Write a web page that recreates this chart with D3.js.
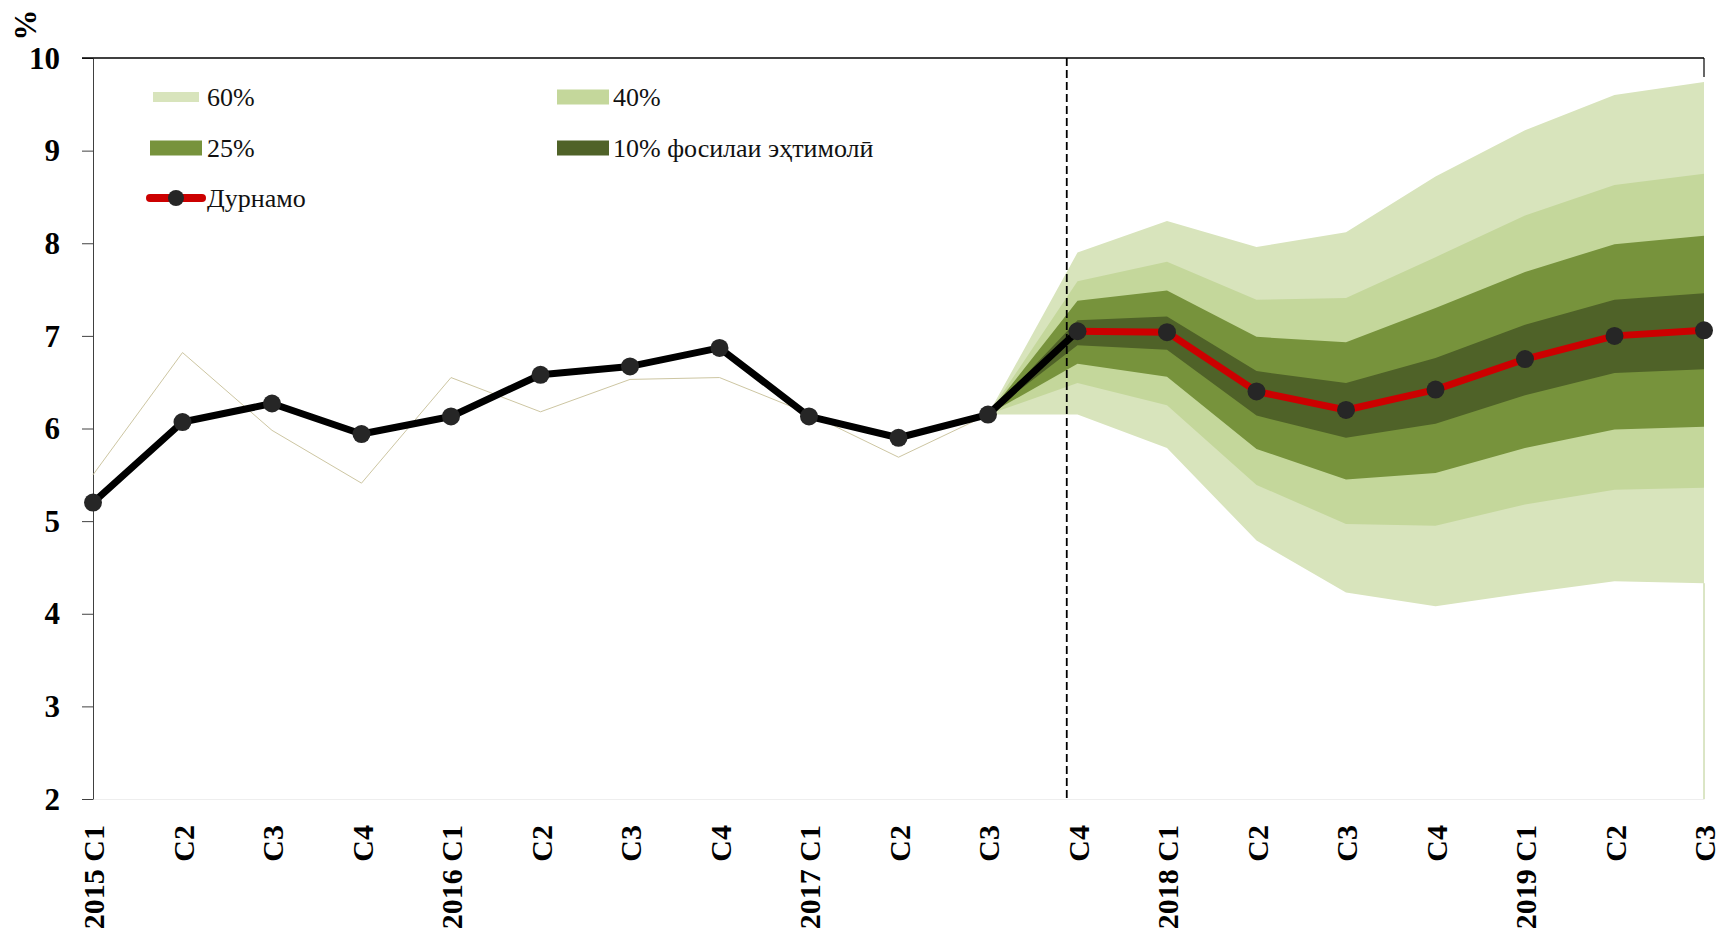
<!DOCTYPE html>
<html><head><meta charset="utf-8">
<script src="https://cdn.jsdelivr.net/npm/d3@7"></script>
<style>body{margin:0;background:#fff}svg{display:block}</style>
</head><body>
<svg id="c" width="1720" height="936"></svg>
<script>
// ---- data ----
const categories = ["2015 C1","C2","C3","C4","2016 C1","C2","C3","C4","2017 C1","C2","C3","C4","2018 C1","C2","C3","C4","2019 C1","C2","C3"];
const yTicks = [2,3,4,5,6,7,8,9,10];
const actual = [5.20,6.07,6.27,5.94,6.13,6.58,6.67,6.87,6.13,5.90,6.15,7.05];          // index 0..11
const forecastStart = 11;
const forecast = [7.05,7.04,6.40,6.20,6.42,6.75,7.00,7.06];                             // index 11..18
const previous = [5.50,6.82,5.98,5.41,6.55,6.18,6.53,6.55,6.16,5.69,6.15];             // index 0..10
const bandStart = 10;
const lower60 = [6.15,6.15,5.79,4.79,4.23,4.08,4.22,4.35,4.33];
const lower40 = [6.15,6.49,6.25,5.39,4.97,4.95,5.18,5.34,5.36];
const lower25 = [6.15,6.70,6.56,5.78,5.45,5.52,5.79,5.99,6.02];
const lower10 = [6.15,6.90,6.85,6.14,5.90,6.05,6.36,6.60,6.64];
const upper10 = [6.15,7.17,7.21,6.62,6.49,6.76,7.12,7.39,7.46];
const upper25 = [6.15,7.38,7.49,6.99,6.93,7.30,7.69,7.99,8.08];
const upper40 = [6.15,7.59,7.80,7.39,7.41,7.85,8.30,8.63,8.75];
const upper60 = [6.15,7.90,8.24,7.96,8.12,8.72,9.22,9.60,9.74];
const dividerAt = 10.88;
const bandLabels = ["60%","40%","25%","10% фосилаи эҳтимолӣ"];
const lineLabel = "Дурнамо";
const unitLabel = "%";

// ---- styles ----
const bandColors = ["#d8e4bc","#c4d79b","#77933c","#4f6228"];
const FONT = "'Palatino Linotype','Book Antiqua',Palatino,'Liberation Serif','DejaVu Serif',serif";

const svg = d3.select("#c");
const x = d3.scaleLinear().domain([0, categories.length-1]).range([93,1704]);
const y = d3.scaleLinear().domain([2,10]).range([799,58]);

// fan bands
const bands = [[lower60,upper60],[lower40,upper40],[lower25,upper25],[lower10,upper10]];
const area = d3.area().x((d,i)=>x(bandStart+i)).y0(d=>y(d[0])).y1(d=>y(d[1]));
bands.forEach((b,k)=>{
  const pts = b[0].map((v,i)=>[v,b[1][i]]);
  svg.append("path").attr("d",area(pts)).attr("fill",bandColors[k]);
});
// thin edge at right end of fan
svg.append("line").attr("x1",x(categories.length-1)).attr("x2",x(categories.length-1))
  .attr("y1",y(lower60[lower60.length-1])).attr("y2",y(2))
  .attr("stroke","#b7cc8c").attr("stroke-width",1);

// x axis (very light)
const xAxis = svg.append("g").attr("transform",`translate(0,${y(2)})`)
  .call(d3.axisBottom(x).tickValues(d3.range(categories.length)).tickFormat(i=>categories[i]).tickSize(0).tickSizeOuter(0));
xAxis.select(".domain").attr("stroke","#eeeeee");
xAxis.selectAll("text").attr("transform","rotate(-90)").attr("x",-26).attr("y",0).attr("dy","0.35em")
  .style("text-anchor","end").style("font-family",FONT).style("font-size","30px").style("font-weight","bold").attr("fill","#000");

// y axis
const yAxis = svg.append("g").attr("transform",`translate(${x(0)},0)`)
  .call(d3.axisLeft(y).tickValues(yTicks).tickSize(11).tickSizeOuter(0).tickPadding(22));
yAxis.select(".domain").attr("stroke","#404040");
yAxis.selectAll(".tick line").attr("stroke","#404040");
yAxis.selectAll("text").style("font-family",FONT).style("font-size","31px").style("font-weight","bold").attr("fill","#000").attr("dy","0.33em");

// top border
svg.append("line").attr("x1",x(0)-11).attr("x2",x(categories.length-1)).attr("y1",y(10)).attr("y2",y(10)).attr("stroke","#000").attr("stroke-width",1.5);
svg.append("line").attr("x1",x(categories.length-1)).attr("x2",x(categories.length-1)).attr("y1",y(10)).attr("y2",y(10)+19).attr("stroke","#000").attr("stroke-width",1.2);

// previous (thin tan) line
const line = d3.line().x(d=>x(d[0])).y(d=>y(d[1]));
svg.append("path").attr("d",line(previous.map((v,i)=>[i,v]))).attr("fill","none").attr("stroke","#cdc6a2").attr("stroke-width",1);

// divider
svg.append("line").attr("x1",x(dividerAt)).attr("x2",x(dividerAt)).attr("y1",y(10)).attr("y2",y(2))
  .attr("stroke","#000").attr("stroke-width",1.8).attr("stroke-dasharray","8,4");

// actual line
svg.append("path").attr("d",line(actual.map((v,i)=>[i,v]))).attr("fill","none").attr("stroke","#000").attr("stroke-width",7).attr("stroke-linejoin","round");
// forecast line
svg.append("path").attr("d",line(forecast.map((v,i)=>[forecastStart+i,v]))).attr("fill","none").attr("stroke","#cc0000").attr("stroke-width",7).attr("stroke-linejoin","round");
// dots
const allPts = actual.map((v,i)=>[i,v]).concat(forecast.slice(1).map((v,i)=>[forecastStart+1+i,v]));
svg.append("g").selectAll("circle").data(allPts).join("circle")
  .attr("cx",d=>x(d[0])).attr("cy",d=>y(d[1])).attr("r",9).attr("fill","#262626");

// unit label
svg.append("text").attr("transform","translate(25,25) rotate(-90)").attr("text-anchor","middle").attr("dy","0.35em")
  .style("font-family",FONT).style("font-size","31px").style("font-weight","bold").text(unitLabel);

// legend
const leg = svg.append("g").style("font-family",FONT).style("font-size","26px");
const legPos = [[153,97,46,10],[557,97,52,15],[150,148,52,15],[557,148,52,15]];
bandLabels.forEach((lab,k)=>{
  const p = legPos[k];
  leg.append("rect").attr("x",p[0]).attr("y",p[1]-p[3]/2).attr("width",p[2]).attr("height",p[3]).attr("fill",bandColors[k]);
  leg.append("text").attr("x",k%2===0?207:613).attr("y",p[1]).attr("dy","0.35em").attr("fill","#111").text(lab);
});
leg.append("line").attr("x1",150).attr("x2",202).attr("y1",198).attr("y2",198).attr("stroke","#cc0000").attr("stroke-width",8).attr("stroke-linecap","round");
leg.append("circle").attr("cx",176).attr("cy",198).attr("r",8).attr("fill","#262626");
leg.append("text").attr("x",207).attr("y",198).attr("dy","0.35em").attr("fill","#111").text(lineLabel);
</script>
</body></html>
